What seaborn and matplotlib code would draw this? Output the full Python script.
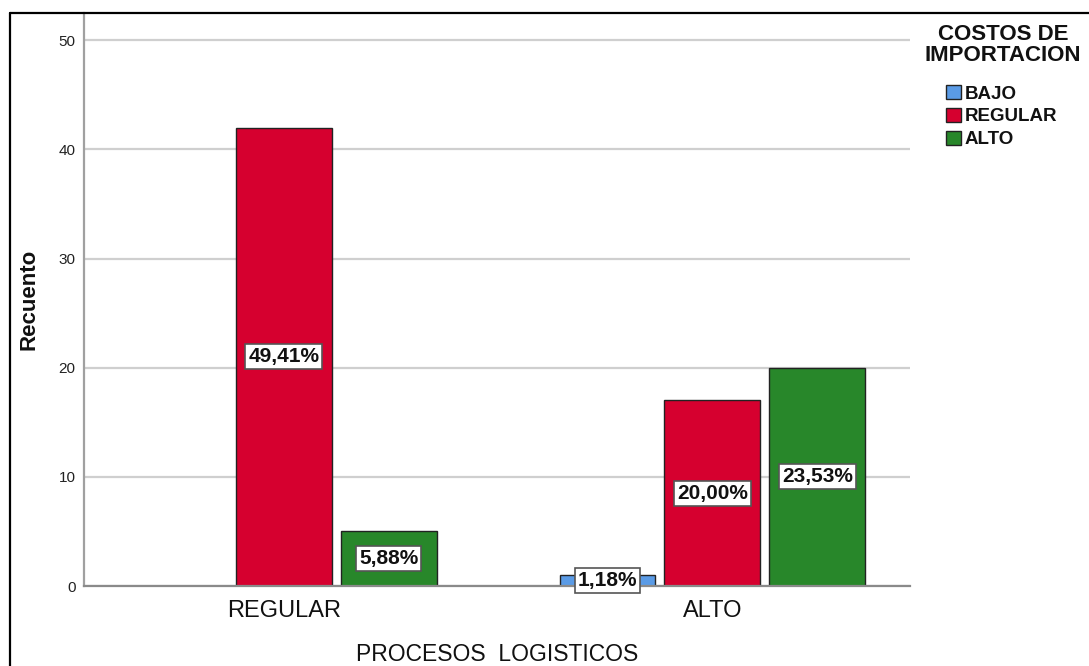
import matplotlib
matplotlib.use("Agg")
import matplotlib.pyplot as plt
import seaborn as sns
import pandas as pd
from matplotlib.patches import Patch
from matplotlib.lines import Line2D

# ---- data ----
procesos = ["REGULAR", "ALTO"]
costos = ["BAJO", "REGULAR", "ALTO"]
counts_regular = [0, 42, 5]   # PROCESOS = REGULAR (BAJO, REGULAR, ALTO)
counts_alto = [1, 17, 20]     # PROCESOS = ALTO
colors = ["#5a9be6", "#d6002f", "#28872a"]
legend_title = "COSTOS DE\nIMPORTACION"

rows = []
for p, vals in zip(procesos, [counts_regular, counts_alto]):
    for c, v in zip(costos, vals):
        if v > 0:
            rows.append({"proc": p, "costo": c, "n": v})
df = pd.DataFrame(rows)
total = sum(counts_regular) + sum(counts_alto)

sns.set_theme(style="white")
plt.rcParams["font.family"] = ["Liberation Sans", "DejaVu Sans"]

fig = plt.figure(figsize=(10.89, 6.66), dpi=100)
ax = fig.add_axes([84 / 1089, 1 - 586 / 666, (910 - 84) / 1089, (586 - 13) / 666])

sns.barplot(data=df, x="proc", y="n", hue="costo", order=procesos, hue_order=costos,
            palette=colors, width=0.734, gap=0.086, edgecolor="#222222", linewidth=1.0,
            saturation=1, legend=False, ax=ax, err_kws={"linewidth": 0})

ax.set_xlim(-0.466, 1.461)
ax.set_ylim(0, 52.5)
ax.set_yticks([0, 10, 20, 30, 40, 50])
ax.yaxis.grid(True, color="#cfcfcf", linewidth=1.6)
ax.xaxis.grid(False)
ax.set_axisbelow(True)
for s in ["top", "right"]:
    ax.spines[s].set_visible(False)
ax.spines["left"].set_color("#a0a0a0")
ax.spines["left"].set_linewidth(1.6)
ax.spines["bottom"].set_color("#8a8a8a")
ax.spines["bottom"].set_linewidth(1.6)
ax.tick_params(axis="y", length=0, labelsize=11, pad=6, labelcolor="#222222")
ax.tick_params(axis="x", length=0, labelsize=17, pad=10, labelcolor="#111111")

ax.set_xlabel("PROCESOS  LOGISTICOS", fontsize=16.5, labelpad=15, color="#111111")
ax.set_ylabel("Recuento", fontsize=16, fontweight="bold", labelpad=14, color="#111111")

for cont in ax.containers:
    for bar in cont:
        h = bar.get_height()
        if h <= 0:
            continue
        pct = f"{h / total * 100:.2f}%".replace(".", ",")
        ax.text(bar.get_x() + bar.get_width() / 2, h / 2, pct, ha="center", va="center",
                fontsize=15, fontweight="bold", color="#111111", clip_on=False, zorder=5,
                bbox=dict(boxstyle="square,pad=0.15", facecolor="white",
                          edgecolor="#555555", linewidth=1.2))

# legend title
fig.text(1003 / 1089, 1 - 24 / 666, legend_title, ha="center", va="top",
         multialignment="center", fontsize=16, fontweight="bold", linespacing=1.0,
         color="#111111")

handles = [Patch(facecolor=c, edgecolor="#222222", linewidth=1.0) for c in colors]
leg = ax.legend(handles, costos, loc="upper left",
                bbox_to_anchor=(946 / 1089, 1 - 85 / 666), bbox_transform=fig.transFigure,
                frameon=False, borderpad=0, borderaxespad=0,
                handlelength=0.8, handleheight=0.8, handletextpad=0.2, labelspacing=0.27,
                prop={"size": 13.5, "weight": "bold"})
for t in leg.get_texts():
    t.set_color("#111111")

# outer frame
fig.add_artist(Line2D([10 / 1089, 1.0], [1 - 13 / 666, 1 - 13 / 666],
                      transform=fig.transFigure, color="black", linewidth=1.6))
fig.add_artist(Line2D([10 / 1089, 10 / 1089], [0.0, 1 - 13 / 666],
                      transform=fig.transFigure, color="black", linewidth=1.6))

fig.savefig("out.png", dpi=100, facecolor="white")
